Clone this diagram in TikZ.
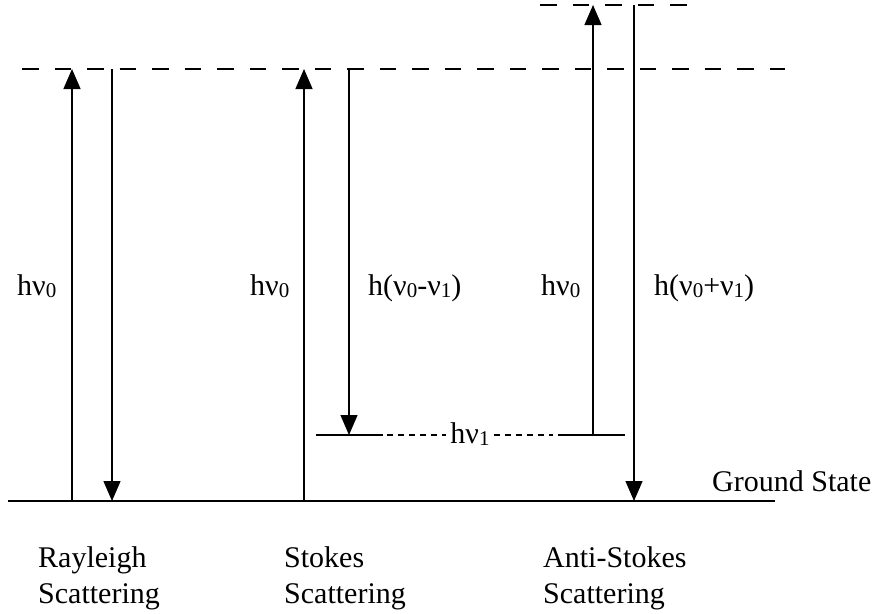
\documentclass[tikz,border=0pt]{standalone}
\usepackage{fontspec}
\setmainfont{Liberation Serif}
\usetikzlibrary{arrows.meta}
\newcommand{\subz}[1]{\raisebox{-2pt}{\fontsize{21}{21}\selectfont #1}}
\begin{document}
\begin{tikzpicture}[x=1pt,y=-1pt,
  lvl/.style={line width=1.3pt},
  ground/.style={line width=2pt},
  virt/.style={line width=1.2pt,dash pattern=on 16.5pt off 16pt},
  short/.style={line width=1.2pt,dash pattern=on 6pt off 5pt},
  tr/.style={line width=1.3pt,-{Triangle[width=17pt,length=20pt]}},
  lbl/.style={font=\fontsize{30}{30}\selectfont,inner sep=0pt,anchor=base west},
  captxt/.style={font=\fontsize{30}{36}\selectfont,align=left,anchor=north west,inner sep=0pt}]
\useasboundingbox (0,0) rectangle (877,613);
% levels
\coordinate (g1) at (8,501); \coordinate (g2) at (775,501);
\draw[ground] (g1) -- (g2);
\coordinate (v1) at (22,69); \coordinate (v2) at (785,69);
\draw[virt] (v1) -- (v2);
\coordinate (u1) at (540,5); \coordinate (u2) at (692,5);
\draw[virt] (u1) -- (u2);
% vibrational level
\coordinate (a1) at (316,435); \coordinate (a2) at (383,435);
\coordinate (b1) at (558,435); \coordinate (b2) at (625,435);
\draw[lvl] (a1) -- (a2);
\draw[lvl] (b1) -- (b2);
\node[font=\fontsize{30}{30}\selectfont,inner xsep=4pt,inner ysep=0pt,anchor=base] (hv1) at (470,443) {hν\subz{1}};
\coordinate (d1) at (387,435); \coordinate (d2) at (hv1.west |- a1);
\coordinate (d3) at (hv1.east |- a1); \coordinate (d4) at (553,435);
\draw[short] (d1) -- (d2);
\draw[short] (d3) -- (d4);
% Rayleigh
\coordinate (r1b) at (72,501); \coordinate (r1t) at (72,69);
\coordinate (r2t) at (112,69); \coordinate (r2b) at (112,501);
\draw[tr] (r1b) -- (r1t);
\draw[tr] (r2t) -- (r2b);
% Stokes
\coordinate (s1b) at (304,501); \coordinate (s1t) at (304,69);
\coordinate (s2t) at (349,69); \coordinate (s2b) at (349,435);
\draw[tr] (s1b) -- (s1t);
\draw[tr] (s2t) -- (s2b);
% Anti-Stokes
\coordinate (as1b) at (593,435); \coordinate (as1t) at (593,5);
\coordinate (as2t) at (634,5); \coordinate (as2b) at (634,501);
\draw[tr] (as1b) -- (as1t);
\draw[tr] (as2t) -- (as2b);
% labels
\node[lbl] (l1) at (17,295) {hν\subz{0}};
\node[lbl] (l2) at (250,295) {hν\subz{0}};
\node[lbl] (l3) at (368,295) {h(ν\subz{0}-ν\subz{1})};
\node[lbl] (l4) at (541,295) {hν\subz{0}};
\node[lbl] (l5) at (654,295) {h(ν\subz{0}+ν\subz{1})};
\node[lbl] (gs) at (712,491) {Ground State};
\node[captxt] (c1) at (38,546) {Rayleigh\\Scattering};
\node[captxt] (c2) at (284,546) {Stokes\\Scattering};
\node[captxt] (c3) at (543,546) {Anti-Stokes\\Scattering};
\end{tikzpicture}
\end{document}
